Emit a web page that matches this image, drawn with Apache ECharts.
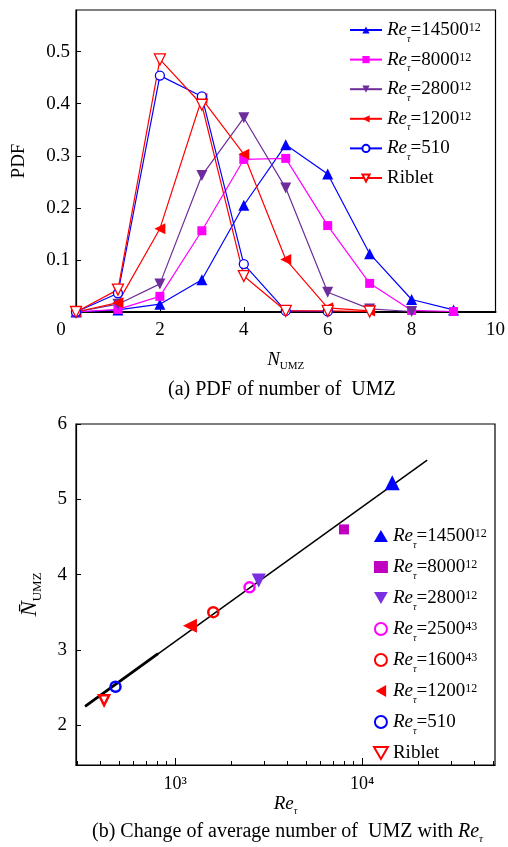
<!DOCTYPE html>
<html>
<head>
<meta charset="utf-8">
<script src="https://cdn.jsdelivr.net/npm/echarts@6/dist/echarts.min.js"></script>
<style>
  html,body{margin:0;padding:0;background:#fff;}
  #main{width:508px;height:847px;}
</style>
</head>
<body>
<div id="main"></div>
<script>
// (a) PDF of number of UMZ
const nUmz = [0, 1, 2, 3, 4, 5, 6, 7, 8, 9];
const pdf14500 = [0, 0.004, 0.015, 0.062, 0.205, 0.321, 0.265, 0.112, 0.024, 0.004];
const pdf8000 = [0, 0.005, 0.030, 0.156, 0.293, 0.295, 0.166, 0.055, 0.003, 0.001];
const pdf2800 = [0, 0.015, 0.054, 0.262, 0.373, 0.238, 0.038, 0.006, 0.001];
const pdf1200 = [0, 0.018, 0.160, 0.410, 0.303, 0.101, 0.008, 0.002];
const pdf510 = [0, 0.036, 0.454, 0.414, 0.092, 0.002, 0.001];
const pdfRiblet = [0, 0.043, 0.485, 0.398, 0.069, 0.002, 0.002, 0.001];

// (b) mean number of UMZ vs Re_tau
const reTau = [14500, 8000, 2800, 2500, 1600, 1200, 480, 417];
const nMean = [5.22, 4.60, 3.92, 3.83, 3.50, 3.32, 2.51, 2.33];
const fitRe = [330, 22300];
const fitN = [2.25, 5.52];
const fitThickRe = [330, 810];
const fitThickN = [2.25, 2.95];
const majorTicks = [1000, 10000];
const minorTicks = [300, 400, 500, 600, 700, 800, 900, 2000, 3000, 4000, 5000, 6000, 7000, 8000, 9000, 20000, 30000, 40000, 50000];
const nTicks = [2, 3, 4, 5, 6];

// legend text pieces
const reLabels = {
  a14500: ['14500', '12'], a8000: ['8000', '12'], a2800: ['2800', '12'], a1200: ['1200', '12'], a510: ['510', ''],
  b14500: ['14500', '12'], b8000: ['8000', '12'], b2800: ['2800', '12'], b2500: ['2500', '43'],
  b1600: ['1600', '43'], b1200: ['1200', '12'], b510: ['510', '']
};

const serif = 'Liberation Serif';
const triDown = 'path://M0,0L10,0L5,8.66Z';
const triLeft = 'path://M0,5L8.66,0L8.66,10Z';
const richLeg = {
  i: {fontFamily: serif, fontStyle: 'italic', fontSize: 19, lineHeight: 28, color: '#000'},
  n: {fontFamily: serif, fontSize: 19, lineHeight: 28, color: '#000'},
  s: {fontFamily: serif, fontStyle: 'italic', fontSize: 10, lineHeight: 10, verticalAlign: 'bottom', color: '#000'},
  p: {fontFamily: serif, fontSize: 12, lineHeight: 12, verticalAlign: 'top', padding: [6, 0, 0, 0], color: '#000'}
};
const legText = {lineHeight: 28, backgroundColor: 'rgba(0,0,0,0)', rich: richLeg};
function legendText(name) {
  if (name.indexOf('Riblet') >= 0) return '{n|Riblet}';
  const l = reLabels[name];
  return '{i|Re}{s|τ}{n|=' + l[0] + '}' + (l[1] ? '{p|' + l[1] + '}' : '');
}

const blue = '#0000ff', mag = '#ff00ff', purp = '#6e2d9a', red = '#ff0000';

function pdfLine(name, arr, color, symbol, size, rot, empty) {
  return {
    name: name, type: 'line', xAxisIndex: 0, yAxisIndex: 0,
    data: arr.map((v, i) => [nUmz[i], v]),
    symbol: symbol, symbolSize: size, symbolRotate: rot,
    lineStyle: {color: color, width: 1.2},
    itemStyle: {color: empty ? '#fff' : color, borderColor: color, borderWidth: empty ? 1.3 : 0},
    z: 3
  };
}
function pt(name, idx, color, symbol, size, empty) {
  return {
    name: name, type: 'scatter', xAxisIndex: 1, yAxisIndex: 1,
    data: [[reTau[idx], nMean[idx]]],
    symbol: symbol, symbolSize: size,
    itemStyle: {color: empty ? 'rgba(255,255,255,0)' : color, borderColor: color, borderWidth: empty ? 2.5 : 0, opacity: 1},
    z: 4
  };
}

const chart = echarts.init(document.getElementById('main'), null, {renderer: 'canvas'});
const axisCommon = {
  axisLine: {lineStyle: {color: '#000', width: 1.2}},
  axisTick: {inside: true, length: 5, lineStyle: {color: '#000'}},
  splitLine: {show: false},
  axisLabel: {color: '#000', fontFamily: serif, fontSize: 19}
};

chart.setOption({
  animation: false,
  textStyle: {fontFamily: serif},
  grid: [
    {left: 76, top: 10, right: 11, height: 302, show: true, borderColor: '#000', borderWidth: 1.2},
    {left: 76, top: 424, right: 13, height: 341, show: true, borderColor: '#000', borderWidth: 1.2}
  ],
  xAxis: [
    Object.assign({}, axisCommon, {
      gridIndex: 0, type: 'value', min: 0, max: 10, interval: 2,
      axisLine: {lineStyle: {color: '#000', width: 2}},
      axisLabel: Object.assign({}, axisCommon.axisLabel, {
        margin: 9,
        formatter: v => v === 0 ? '{z|0}' : String(v),
        rich: {z: {fontFamily: serif, fontSize: 19, color: '#000', padding: [0, 30, 0, 0]}}
      }),
      name: '{i|N}{s|UMZ}', nameLocation: 'middle', nameGap: 36,
      nameTextStyle: {rich: {
        i: {fontFamily: serif, fontStyle: 'italic', fontSize: 19, lineHeight: 24, color: '#000'},
        s: {fontFamily: serif, fontSize: 11, lineHeight: 10, verticalAlign: 'bottom', color: '#000'}
      }}
    }),
    Object.assign({}, axisCommon, {
      gridIndex: 1, type: 'log', logBase: 10, min: 295, max: 51400,
      axisTick: {inside: true, length: 7, lineStyle: {color: '#000'}, customValues: majorTicks},
      axisLabel: Object.assign({}, axisCommon.axisLabel, {
        fontSize: 18, margin: 10, customValues: majorTicks,
        formatter: v => Math.abs(v - 1000) < 1 ? '10³' : (Math.abs(v - 10000) < 1 ? '10⁴' : '')
      }),
      name: '{i|Re}{s|τ}', nameLocation: 'middle', nameGap: 27,
      nameTextStyle: {rich: {
        i: {fontFamily: serif, fontStyle: 'italic', fontSize: 19, lineHeight: 24, color: '#000'},
        s: {fontFamily: serif, fontStyle: 'italic', fontSize: 10, lineHeight: 10, verticalAlign: 'bottom', color: '#000'}
      }}
    }),
    {
      gridIndex: 1, type: 'log', logBase: 10, min: 295, max: 51400, position: 'bottom',
      axisLine: {show: false}, splitLine: {show: false}, axisLabel: {show: false},
      axisTick: {show: true, inside: true, length: 4, lineStyle: {color: '#000'}, customValues: minorTicks}
    }
  ],
  yAxis: [
    Object.assign({}, axisCommon, {
      gridIndex: 0, type: 'value', min: 0, max: 0.58, interval: 0.1,
      axisLabel: Object.assign({}, axisCommon.axisLabel, {
        margin: 6, showMaxLabel: false,
        formatter: v => (v === 0 || v > 0.55) ? '' : v.toFixed(1)
      }),
      name: 'PDF', nameLocation: 'middle', nameGap: 47, nameRotate: 90,
      nameTextStyle: {fontFamily: serif, fontSize: 19, color: '#000'}
    }),
    Object.assign({}, axisCommon, {
      gridIndex: 1, type: 'value', min: 1.47, max: 6,
      axisTick: {inside: true, length: 5, lineStyle: {color: '#000'}, customValues: nTicks},
      axisLabel: Object.assign({}, axisCommon.axisLabel, {margin: 9, customValues: nTicks}),
      name: '{i|N̄}{s|UMZ}', nameLocation: 'middle', nameGap: 32, nameRotate: 90,
      nameTextStyle: {rich: {
        i: {fontFamily: serif, fontStyle: 'italic', fontSize: 23, lineHeight: 28, color: '#000'},
        s: {fontFamily: serif, fontSize: 13, lineHeight: 12, verticalAlign: 'bottom', color: '#000'}
      }}
    })
  ],
  legend: [
    {
      orient: 'vertical', left: 349, top: 16, padding: 0, itemWidth: 32, itemHeight: 9, itemGap: 1.6,
      data: ['a14500', 'a8000', 'a2800', 'a1200', 'a510', 'aRiblet'],
      formatter: legendText, textStyle: legText
    },
    {
      orient: 'vertical', left: 373, top: 522, padding: 0, itemWidth: 14, itemHeight: 12, itemGap: 3,
      data: ['b14500', 'b8000', 'b2800', 'b2500', 'b1600', 'b1200', 'b510', 'bRiblet'],
      formatter: legendText, textStyle: legText
    }
  ],
  graphic: [
    {type: 'text', left: 168, top: 380, style: {text: '(a) PDF of number of  UMZ', font: '20px "Liberation Serif"', fill: '#000'}},
    {type: 'text', left: 92, top: 822, style: {
      text: '{n|(b) Change of average number of  UMZ with }{i|Re}{s|τ}',
      rich: {
        n: {fontFamily: serif, fontSize: 20, lineHeight: 26, color: '#000'},
        i: {fontFamily: serif, fontStyle: 'italic', fontSize: 20, lineHeight: 26, color: '#000'},
        s: {fontFamily: serif, fontStyle: 'italic', fontSize: 11, lineHeight: 10, verticalAlign: 'bottom', color: '#000'}
      }
    }}
  ],
  series: [
    pdfLine('a14500', pdf14500, blue, 'triangle', 11, 0, false),
    pdfLine('a8000', pdf8000, mag, 'rect', 9, 0, false),
    pdfLine('a2800', pdf2800, purp, 'triangle', 11, 180, false),
    pdfLine('a1200', pdf1200, red, 'triangle', 11, 90, false),
    pdfLine('a510', pdf510, blue, 'circle', 9, 0, true),
    pdfLine('aRiblet', pdfRiblet, red, 'triangle', 11, 180, true),
    {
      type: 'line', xAxisIndex: 1, yAxisIndex: 1, symbol: 'none',
      data: fitRe.map((v, i) => [v, fitN[i]]),
      lineStyle: {color: '#000', width: 1.5}, z: 2
    },
    {
      type: 'line', xAxisIndex: 1, yAxisIndex: 1, symbol: 'none',
      data: fitThickRe.map((v, i) => [v, fitThickN[i]]),
      lineStyle: {color: '#000', width: 2.8}, z: 2
    },
    pt('b14500', 0, blue, 'triangle', 15, false),
    pt('b8000', 1, '#c000c0', 'rect', 10, false),
    pt('b2800', 2, '#7a30e0', triDown, 14, false),
    pt('b2500', 3, mag, 'circle', 10, true),
    pt('b1600', 4, red, 'circle', 10, true),
    pt('b1200', 5, red, triLeft, 14, false),
    pt('b510', 6, blue, 'circle', 10, true),
    pt('bRiblet', 7, red, triDown, 10, true)
  ]
});
</script>
</body>
</html>
